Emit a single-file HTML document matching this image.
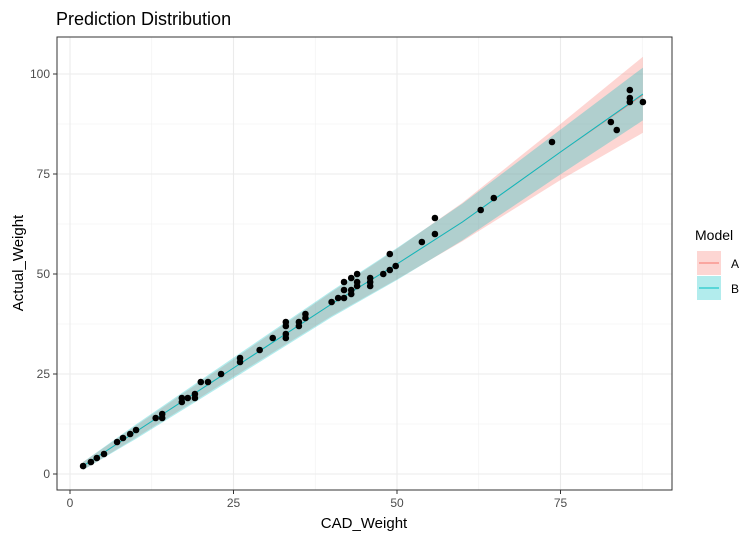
<!DOCTYPE html>
<html><head><meta charset="utf-8"><style>
body{margin:0;background:#fff;font-family:"Liberation Sans",Arial,sans-serif}
svg text{font-family:"Liberation Sans",Arial,sans-serif}
</style></head><body>
<svg id="chart" width="756" height="540">
<text x="56" y="25" font-size="18">Prediction Distribution</text>
<g id="grid"></g>
<g id="ribbons"></g>
<g id="lines"></g>
<g id="points"></g>
<rect x="57" y="37" width="615" height="453" fill="none" stroke="#333" stroke-width="1"/>
<g id="axes"></g>
<text x="364" y="528" font-size="15" text-anchor="middle">CAD_Weight</text>
<text transform="translate(23,263) rotate(-90)" font-size="15" text-anchor="middle">Actual_Weight</text>
<g>
<text x="695" y="240" font-size="14">Model</text>
<g>
<rect x="697" y="251" width="24" height="24" fill="#F8766D" fill-opacity="0.3"/>
<line x1="699" y1="263" x2="719" y2="263" stroke="#F8766D"/>
<text x="731" y="268" font-size="12">A</text></g>
<g>
<rect x="697" y="276" width="24" height="24" fill="#00BFC4" fill-opacity="0.3"/>
<line x1="699" y1="288" x2="719" y2="288" stroke="#00BFC4"/>
<text x="731" y="293" font-size="12">B</text></g>
</g>
</svg>
<script>
const xTicks=[0,25,50,75];
const yTicks=[0,25,50,75,100];
const ptX=[2,3.2,4.1,5.2,7.2,8.1,9.2,10.1,13.1,14.1,14.1,17.1,17.1,18,19.1,19.1,20,21.1,23.1,26,26,29,31,33,33,33,33,35,35,36,36,40,41,41.9,41.9,41.9,43,43,43,43.9,43.9,43.9,45.9,45.9,45.9,47.9,48.9,48.9,49.8,53.8,55.8,55.8,62.8,64.8,73.7,82.7,83.6,85.6,85.6,85.6,87.6];
const ptY=[2,3,4,5,8,9,10,11,14,15,14,19,18,19,20,19,23,23,25,29,28,31,34,38,37,35,34,38,37,40,39,43,44,48,46,44,49,46,45,50,48,47,49,48,47,50,55,51,52,58,64,60,66,69,83,88,86,96,94,93,93];
const fitX=[2,10,25,40,50,60,75,87.6];
const fitA=[2,10.5,26.5,42.5,52.5,63,80.5,94.8];
const fitB=[2,10.5,26.5,42.5,52.5,63,80.5,95];
const halfA=[1,1.5,2.2,3,3.8,4.8,7,9.5];
const halfB=[1,1.8,2.6,3.3,4,4.6,5.6,6.6];
const NS="http://www.w3.org/2000/svg";
const sx=v=>70+v*6.54, sy=v=>474-v*4;
function mk(t,a,p){const e=document.createElementNS(NS,t);for(const k in a)e.setAttribute(k,a[k]);document.getElementById(p).appendChild(e);return e;}
const g='grid';
mk('rect',{x:57,y:37,width:615,height:453,fill:'#fff'},g);
[12.5,37.5,62.5,87.5].forEach(v=>mk('line',{x1:sx(v),x2:sx(v),y1:37,y2:490,stroke:'#f0f0f0','stroke-width':0.6},g));
[12.5,37.5,62.5,87.5].forEach(v=>mk('line',{x1:57,x2:672,y1:sy(v),y2:sy(v),stroke:'#f0f0f0','stroke-width':0.6},g));
xTicks.forEach(v=>{const l=mk('line',{x1:sx(v),x2:sx(v),y1:37,y2:490,stroke:'#ebebeb','stroke-width':1.1},g);

mk('line',{x1:sx(v),x2:sx(v),y1:490,y2:494,stroke:'#333'},'axes');
const t=mk('text',{x:sx(v),y:507,'font-size':12,fill:'#4d4d4d','text-anchor':'middle'},'axes');t.textContent=v;
});
yTicks.forEach(v=>{const l=mk('line',{x1:57,x2:672,y1:sy(v),y2:sy(v),stroke:'#ebebeb','stroke-width':1.1},g);

mk('line',{x1:53,x2:57,y1:sy(v),y2:sy(v),stroke:'#333'},'axes');
const t=mk('text',{x:50,y:sy(v)+4,'font-size':12,fill:'#4d4d4d','text-anchor':'end'},'axes');t.textContent=v;
});
function ribbon(fit,half,col,name){
let up=fitX.map((x,i)=>sx(x)+','+sy(fit[i]+half[i]));
let lo=fitX.map((x,i)=>sx(x)+','+sy(fit[i]-half[i])).reverse();
const p=mk('polygon',{points:up.concat(lo).join(' '),fill:col,'fill-opacity':0.3},'ribbons');

const l=mk('polyline',{points:fitX.map((x,i)=>sx(x)+','+sy(fit[i])).join(' '),fill:'none',stroke:col,'stroke-width':1},'lines');
}
ribbon(fitA,halfA,'#F8766D','ribbon-a');
ribbon(fitB,halfB,'#00BFC4','ribbon-b');
ptX.forEach((x,i)=>{const c=mk('circle',{cx:sx(x),cy:sy(ptY[i]),r:3.3,fill:'#000'},'points');
});
</script>
</body></html>
